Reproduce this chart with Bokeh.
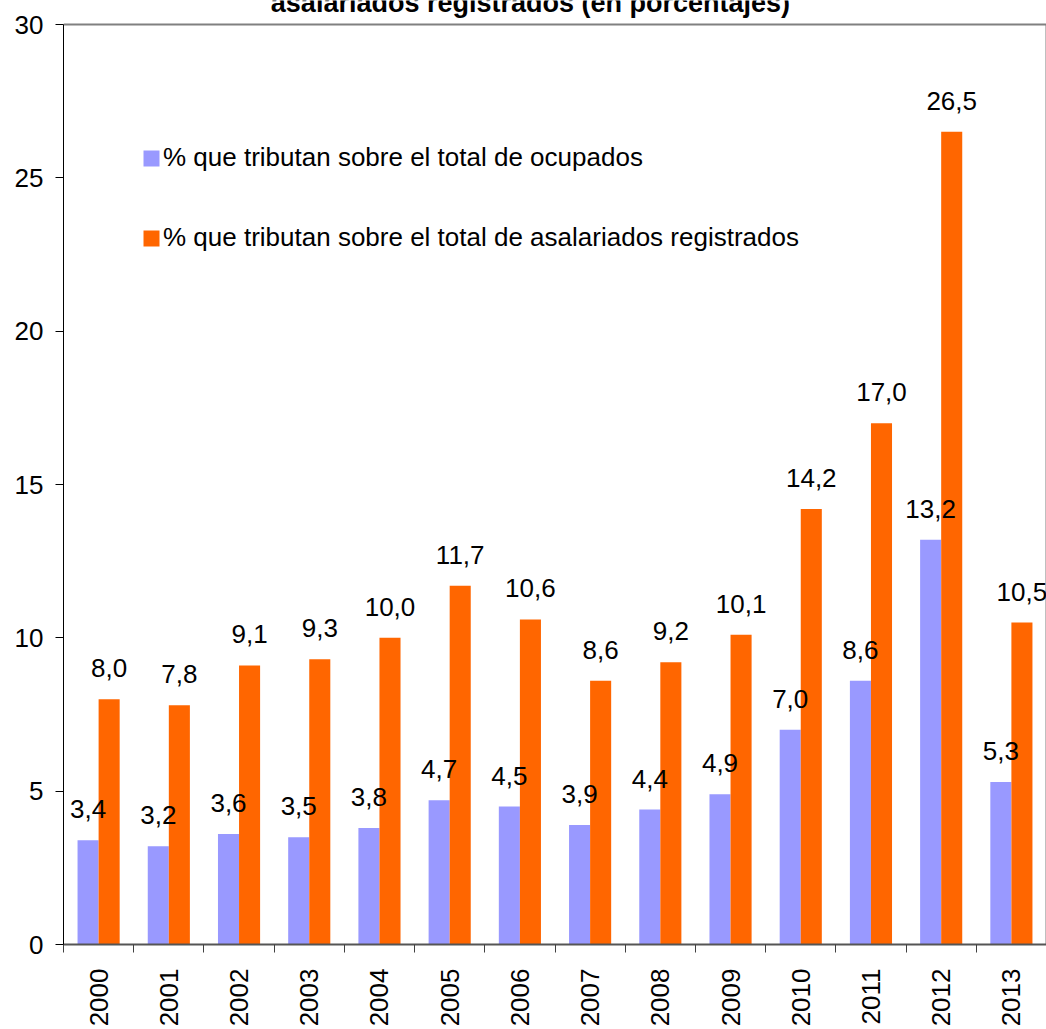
import numpy as np
from bokeh.plotting import figure
from bokeh.models import (ColumnDataSource, Range1d, FixedTicker, Legend, LegendItem)
from bokeh.transform import dodge
from bokeh.core.properties import value
from bokeh.embed import file_html
from bokeh.resources import INLINE

years = ["2000", "2001", "2002", "2003", "2004", "2005", "2006",
         "2007", "2008", "2009", "2010", "2011", "2012", "2013"]
ocupados = [3.4, 3.2, 3.6, 3.5, 3.8, 4.7, 4.5, 3.9, 4.4, 4.9, 7.0, 8.6, 13.2, 5.3]
asalariados = [8.0, 7.8, 9.1, 9.3, 10.0, 11.7, 10.6, 8.6, 9.2, 10.1, 14.2, 17.0, 26.5, 10.5]
y_ticks = [0, 5, 10, 15, 20, 25, 30]
series_names = ["% que tributan sobre el total de ocupados",
                "% que tributan sobre el total de asalariados registrados"]
title_text = "asalariados registrados (en porcentajes)"

FONT = "Liberation Sans"
BLUE = "#9999FF"
ORANGE = "#FF6600"
GRAY = "#808080"

n = len(years)
ymax = y_ticks[-1]
xs = np.arange(n) + 0.5
src = ColumnDataSource(dict(
    x=xs,
    ocu=ocupados,
    asa=asalariados,
    ocu_lbl=[f"{v:.1f}".replace(".", ",") for v in ocupados],
    asa_lbl=[f"{v:.1f}".replace(".", ",") for v in asalariados],
))

# frame spans the full top of the canvas so that the (clipped) title can sit in it
p = figure(width=1046, height=1029, output_backend="svg", toolbar_location=None,
           x_range=Range1d(0, n), y_range=Range1d(0, 30.783),
           min_border_left=63, min_border_right=0, min_border_top=0, min_border_bottom=85)
p.background_fill_color = "white"
p.border_fill_color = "white"
p.outline_line_color = None
p.xgrid.visible = False
p.ygrid.visible = False

# chart-area border (top and right)
p.segment(x0=[0, n], y0=[ymax, 0], x1=[n, n], y1=[ymax, ymax],
          line_color=GRAY, line_width=2)

r1 = p.vbar(x=dodge("x", -0.15, range=p.x_range), top="ocu", width=0.3, source=src,
            fill_color=BLUE, line_color=None)
r2 = p.vbar(x=dodge("x", 0.15, range=p.x_range), top="asa", width=0.3, source=src,
            fill_color=ORANGE, line_color=None)

p.text(x=dodge("x", -0.15, range=p.x_range), y="ocu", text="ocu_lbl", source=src,
       text_font=value(FONT), text_font_size="26px", text_align="center",
       text_baseline="alphabetic", y_offset=-31, text_color="black")
p.text(x=dodge("x", 0.15, range=p.x_range), y="asa", text="asa_lbl", source=src,
       text_font=value(FONT), text_font_size="26px", text_align="center",
       text_baseline="alphabetic", y_offset=-31, text_color="black")

# title (partly cut by the top edge, as in the original)
p.text(x=[6.65], y=[30.70], text=[title_text], text_font=value(FONT),
       text_font_size="27px", text_font_style="bold", text_align="center",
       text_baseline="alphabetic", text_color="black")

# x axis
xa = p.xaxis[0]
xa.ticker = FixedTicker(ticks=list(xs), minor_ticks=list(range(n + 1)))
xa.major_label_overrides = {float(x): y for x, y in zip(xs, years)}
xa.major_label_orientation = np.pi / 2
xa.major_label_text_font = FONT
xa.major_label_text_font_size = "26px"
xa.major_label_text_color = "black"
xa.major_label_standoff = 16
xa.major_tick_out = 0
xa.major_tick_in = 0
xa.minor_tick_out = 8
xa.minor_tick_in = 0
xa.minor_tick_line_color = "#404040"
xa.axis_line_color = "#555555"
xa.axis_line_width = 2

# y axis
ya = p.yaxis[0]
ya.ticker = FixedTicker(ticks=y_ticks)
ya.bounds = (0, ymax)
ya.major_label_text_font = FONT
ya.major_label_text_font_size = "26px"
ya.major_label_text_color = "black"
ya.major_label_standoff = 12
ya.major_tick_out = 8
ya.major_tick_in = 0
ya.major_tick_line_color = "black"
ya.minor_tick_line_color = None
ya.axis_line_color = "black"
ya.axis_line_width = 1

legend = Legend(items=[LegendItem(label=series_names[0], renderers=[r1]),
                       LegendItem(label=series_names[1], renderers=[r2])],
                location=(78, 691), orientation="vertical",
                glyph_width=20, glyph_height=20, label_height=26,
                label_standoff=2, spacing=49, padding=0, margin=0,
                label_text_font=FONT, label_text_font_size="26px",
                label_text_color="black",
                border_line_color=None, background_fill_alpha=0)
p.add_layout(legend, "center")

open("out.html", "w").write(file_html(p, INLINE))
